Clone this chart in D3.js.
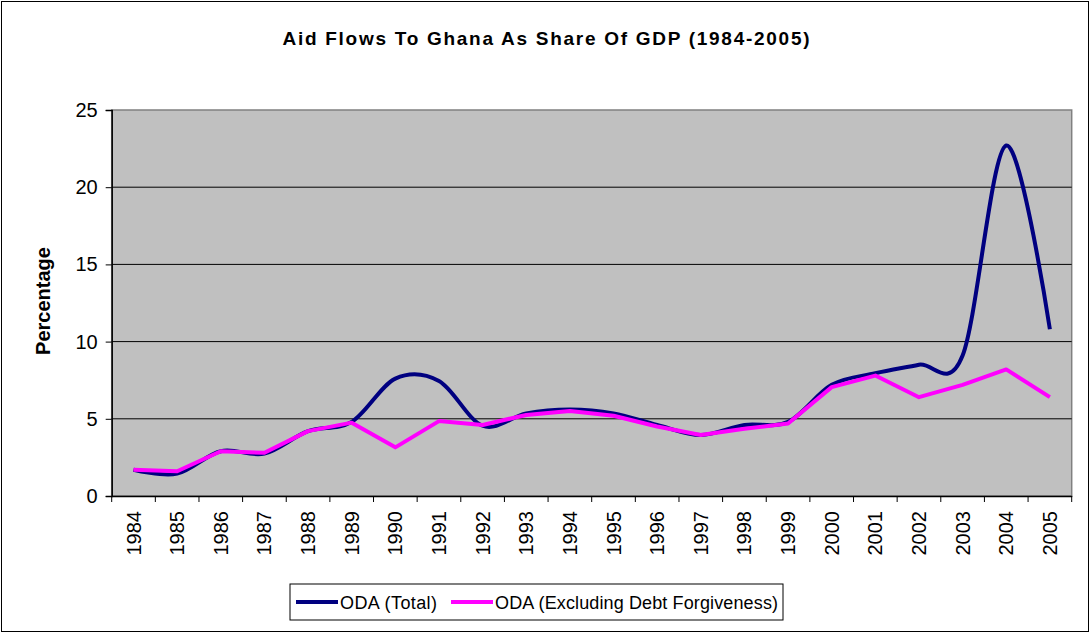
<!DOCTYPE html>
<html><head><meta charset="utf-8">
<script src="https://cdn.jsdelivr.net/npm/d3@7"></script>
<style>
body{margin:0;background:#fff;}
text{font-family:"Liberation Sans",Arial,sans-serif;}
</style></head>
<body><svg id="c" width="1092" height="637"></svg>
<script>
const years = ["1984","1985","1986","1987","1988","1989","1990","1991","1992","1993","1994","1995","1996","1997","1998","1999","2000","2001","2002","2003","2004","2005"];
const odaTotal = [1.7,1.45,2.9,2.75,4.2,4.8,7.6,7.45,4.55,5.35,5.6,5.35,4.6,3.95,4.6,4.8,7.2,7.95,8.5,9.1,22.7,10.8];
const odaExDebt = [1.7,1.6,2.9,2.8,4.2,4.75,3.15,4.85,4.6,5.25,5.5,5.2,4.5,3.95,4.35,4.7,7.05,7.8,6.4,7.2,8.2,6.4];
const yTicks = [0,5,10,15,20,25];
const seriesNames = ["ODA (Total)","ODA (Excluding Debt Forgiveness)"];

const svg = d3.select("#c");
const L=111.7, R=1071.7, T=110, B=496;

svg.append("rect").attr("x",1.5).attr("y",1.5).attr("width",1087).attr("height",630)
  .attr("fill","#fff").attr("stroke","#000").attr("stroke-width",1);

const x = d3.scaleBand().domain(years).range([L,R]).padding(0);
const y = d3.scaleLinear().domain([0,25]).range([B,T]);

svg.append("rect").attr("x",L).attr("y",T).attr("width",R-L).attr("height",B-T)
  .attr("fill","#c0c0c0").attr("stroke","#808080").attr("stroke-width",1.5);

// gridlines
svg.append("g").selectAll("line").data(yTicks.filter(d=>d>0&&d<25)).join("line")
  .attr("x1",L).attr("x2",R).attr("y1",d=>y(d)).attr("y2",d=>y(d))
  .attr("stroke","#000").attr("stroke-width",1);

// y axis
const yAxis = d3.axisLeft(y).tickValues(yTicks).tickSize(6).tickPadding(8);
const gy = svg.append("g").attr("transform",`translate(${L},0)`).call(yAxis);
gy.select(".domain").attr("stroke","#000").attr("stroke-width",1.5);
gy.selectAll(".tick line").attr("stroke","#000");
gy.selectAll("text").attr("font-size",20).attr("fill","#000").attr("font-family","Liberation Sans, Arial, sans-serif");

// x axis
const xAxis = d3.axisBottom(x).tickSize(0).tickFormat("");
const gx = svg.append("g").attr("transform",`translate(0,${B})`).call(xAxis);
gx.select(".domain").attr("stroke","#000").attr("stroke-width",1.5);
const bounds = years.map(d=>x(d)).concat([R]);
svg.append("g").selectAll("line").data(bounds).join("line")
  .attr("x1",d=>d).attr("x2",d=>d).attr("y1",B).attr("y2",B+6).attr("stroke","#000").attr("stroke-width",1);
svg.append("g").selectAll("text").data(years).join("text")
  .attr("transform",d=>`translate(${x(d)+x.bandwidth()/2+7},${511}) rotate(-90)`)
  .attr("text-anchor","end").attr("font-size",20).attr("fill","#000").text(d=>d);

// lines
const pts = (arr)=>arr.map((v,i)=>[x(years[i])+x.bandwidth()/2, y(v)]);
svg.append("path").datum(pts(odaTotal))
  .attr("d",d3.line().curve(d3.curveCatmullRom.alpha(0)))
  .attr("fill","none").attr("stroke","#000080").attr("stroke-width",4).attr("stroke-linejoin","round");
svg.append("path").datum(pts(odaExDebt))
  .attr("d",d3.line())
  .attr("fill","none").attr("stroke","#ff00ff").attr("stroke-width",4).attr("stroke-linejoin","round");

// title
svg.append("text").attr("x",546).attr("y",45).attr("text-anchor","middle")
  .attr("font-size",19).attr("font-weight","bold").attr("fill","#000")
  .attr("textLength",527).attr("lengthAdjust","spacing")
  .text("Aid Flows To Ghana As Share Of GDP (1984-2005)");

// y title
svg.append("text").attr("transform","translate(50,301) rotate(-90)").attr("text-anchor","middle")
  .attr("font-size",20).attr("font-weight","bold").attr("fill","#000").text("Percentage");

// legend
const lg = svg.append("g");
lg.append("rect").attr("x",290).attr("y",584).attr("width",493).attr("height",36)
  .attr("fill","#fff").attr("stroke","#000").attr("stroke-width",1);
const lgItems = [{name:seriesNames[0],color:"#000080",x0:296,w:97},{name:seriesNames[1],color:"#ff00ff",x0:451,w:283}];
lgItems.forEach(it=>{
  lg.append("line").attr("x1",it.x0).attr("x2",it.x0+42).attr("y1",602).attr("y2",602)
    .attr("stroke",it.color).attr("stroke-width",4);
  lg.append("text").attr("x",it.x0+44).attr("y",609).attr("font-size",18).attr("fill","#000")
    .attr("textLength",it.w).attr("lengthAdjust","spacing").text(it.name);
});
</script></body></html>
